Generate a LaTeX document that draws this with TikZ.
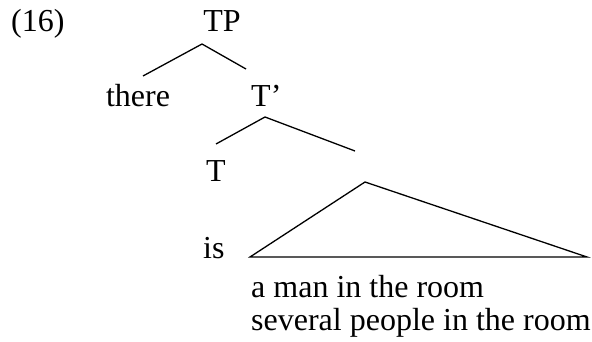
\documentclass[tikz,border=0pt]{standalone}
\usepackage{fontspec}
\setmainfont{Liberation Serif}
\usepackage{tikz}
\usetikzlibrary{calc}
\usetikzlibrary{positioning}
\tikzstyle{lbl}=[inner sep=0pt,anchor=base,font=\fontsize{32}{38}\selectfont]
\tikzstyle{branch}=[line width=1.3pt,line join=miter]

\begin{document}
\begin{tikzpicture}[x=1pt,y=-1pt]
\useasboundingbox (0,0) rectangle (592,342);
\node[lbl,anchor=base west] (num) at (11,32) {(16)};
\node[lbl] (TP) at (222,32) {TP};
\node[lbl] (there) at (138,107) {there};
\node[lbl,anchor=base west] (Tbar) at (251,107) {T’};
\node[lbl] (T) at (216,182) {T};
\node[lbl,anchor=base west] (is) at (203,258) {is};
\node[lbl,anchor=base west] (dp1) at (251,297) {a man in the room};
\node[lbl,anchor=base west] (dp2) at (251,330) {several people in the room};
% TP branches
\coordinate (P1) at (202,44);
\coordinate (P2) at (143,76);
\coordinate (P3) at (246,69);
\draw[branch] (P2) -- (P1) -- (P3);
% T' branches
\coordinate (P4) at (265,117);
\coordinate (P5) at (216,144);
\coordinate (P6) at (355,151);
\draw[branch] (P5) -- (P4) -- (P6);
% triangle
\coordinate (P7) at (365,182);
\coordinate (P8) at (250,257);
\coordinate (P9) at (587,257);
\draw[branch] (P8) -- (P7) -- (P9) -- cycle;
\end{tikzpicture}
\end{document}
